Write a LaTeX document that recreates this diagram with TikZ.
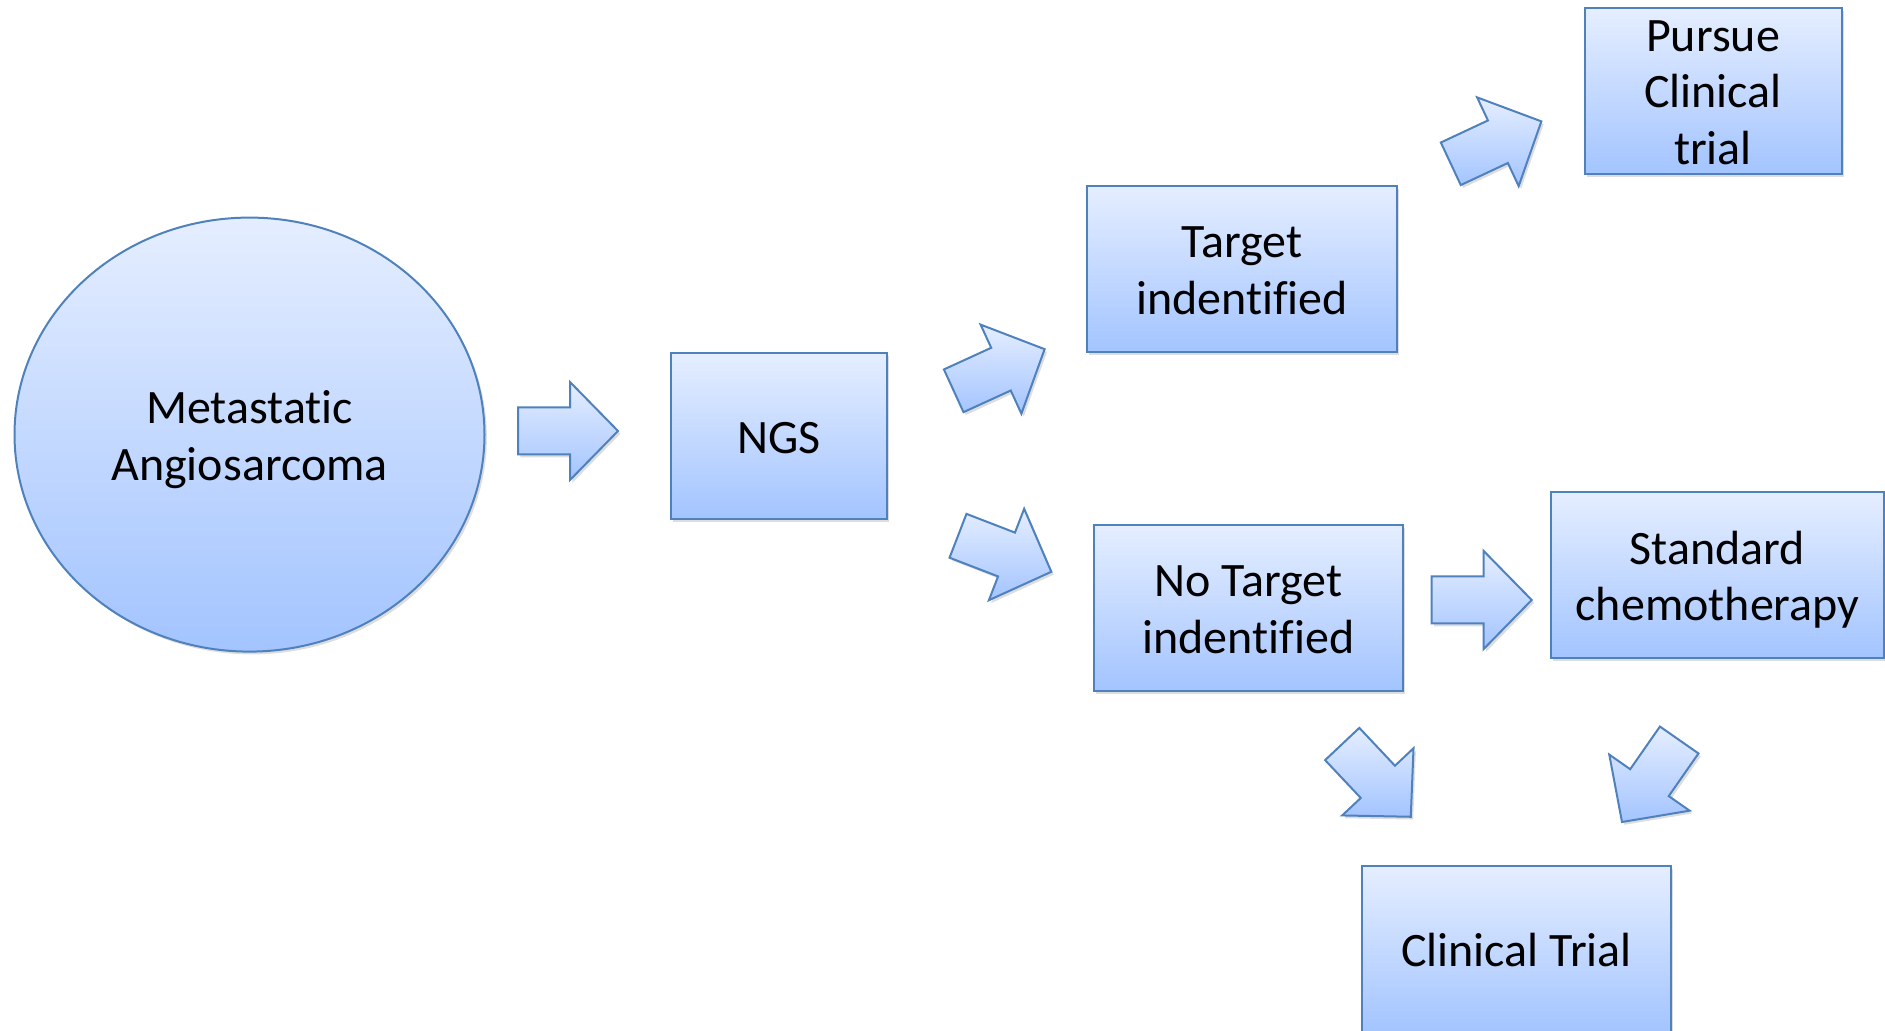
\documentclass[tikz,border=0pt]{standalone}
\usepackage{fontspec}
\setmainfont[Ligatures=NoCommon]{Carlito}
\usetikzlibrary{shadows,shapes.geometric}
\definecolor{gtop}{RGB}{229,238,255}
\definecolor{gbot}{RGB}{163,196,255}
\definecolor{edgeblue}{RGB}{79,129,189}
\newcommand\fl{\rule[-8.5pt]{0pt}{34.3pt}}
\newcommand\ol{\rule[-8.5pt]{0pt}{28.3pt}}
\newcommand\pl{\rule[-4.8pt]{0pt}{26.2pt}}
\begin{document}
\begin{tikzpicture}[x=0.5pt,y=-0.5pt,
  shapefill/.style={top color=gtop,bottom color=gbot,draw=edgeblue,line width=1pt,line join=miter,
    drop shadow={opacity=0.22,shadow xshift=1.2pt,shadow yshift=-1.4pt,fill=black!60}},
  txt/.style={align=center,inner sep=0pt,font=\fontsize{24}{28.3}\selectfont},
  box/.style={shapefill,txt,rectangle,minimum height=83pt},
  blockarrow/.pic={\path[shapefill] (0,-23.5) -- (52,-23.5) -- (52,-49) -- (100,0) -- (52,49) -- (52,23.5) -- (0,23.5) -- cycle;}]
\useasboundingbox (0,0) rectangle (1885,1031);
\node[shapefill,txt,ellipse,minimum width=235pt,minimum height=217pt] (meta) at (249.5,434.6) {\fl Metastatic\\\ol Angiosarcoma};
\node[box,minimum width=108pt] (ngs) at (779,436) {\fl NGS};
\node[box,minimum width=155pt] (target) at (1242,269) {\fl Target\\\ol indentified};
\node[box,minimum width=128.5pt] (pursue) at (1713,91.4) {\pl Pursue\\\pl Clinical\\\pl trial};
\node[box,minimum width=154.5pt] (notarget) at (1248.5,608) {\fl No Target\\\ol indentified};
\node[box,minimum width=166.5pt] (standard) at (1717.5,575) {\fl Standard\\\ol chemotherapy};
\node[box,minimum width=154.5pt] (trial) at (1516.5,949) {\fl Clinical Trial};
\path (518,431) pic {blockarrow};
\path (953.7,390.8) pic[rotate=24.6] {blockarrow};
\path (1450.8,163.8) pic[rotate=25.1] {blockarrow};
\path (958,535.8) pic[rotate=-21.1] {blockarrow};
\path (1431.7,600) pic {blockarrow};
\path (1342.2,744) pic[rotate=-46.7] {blockarrow};
\path (1679.2,740) pic[rotate=-124.9] {blockarrow};
\end{tikzpicture}
\end{document}
